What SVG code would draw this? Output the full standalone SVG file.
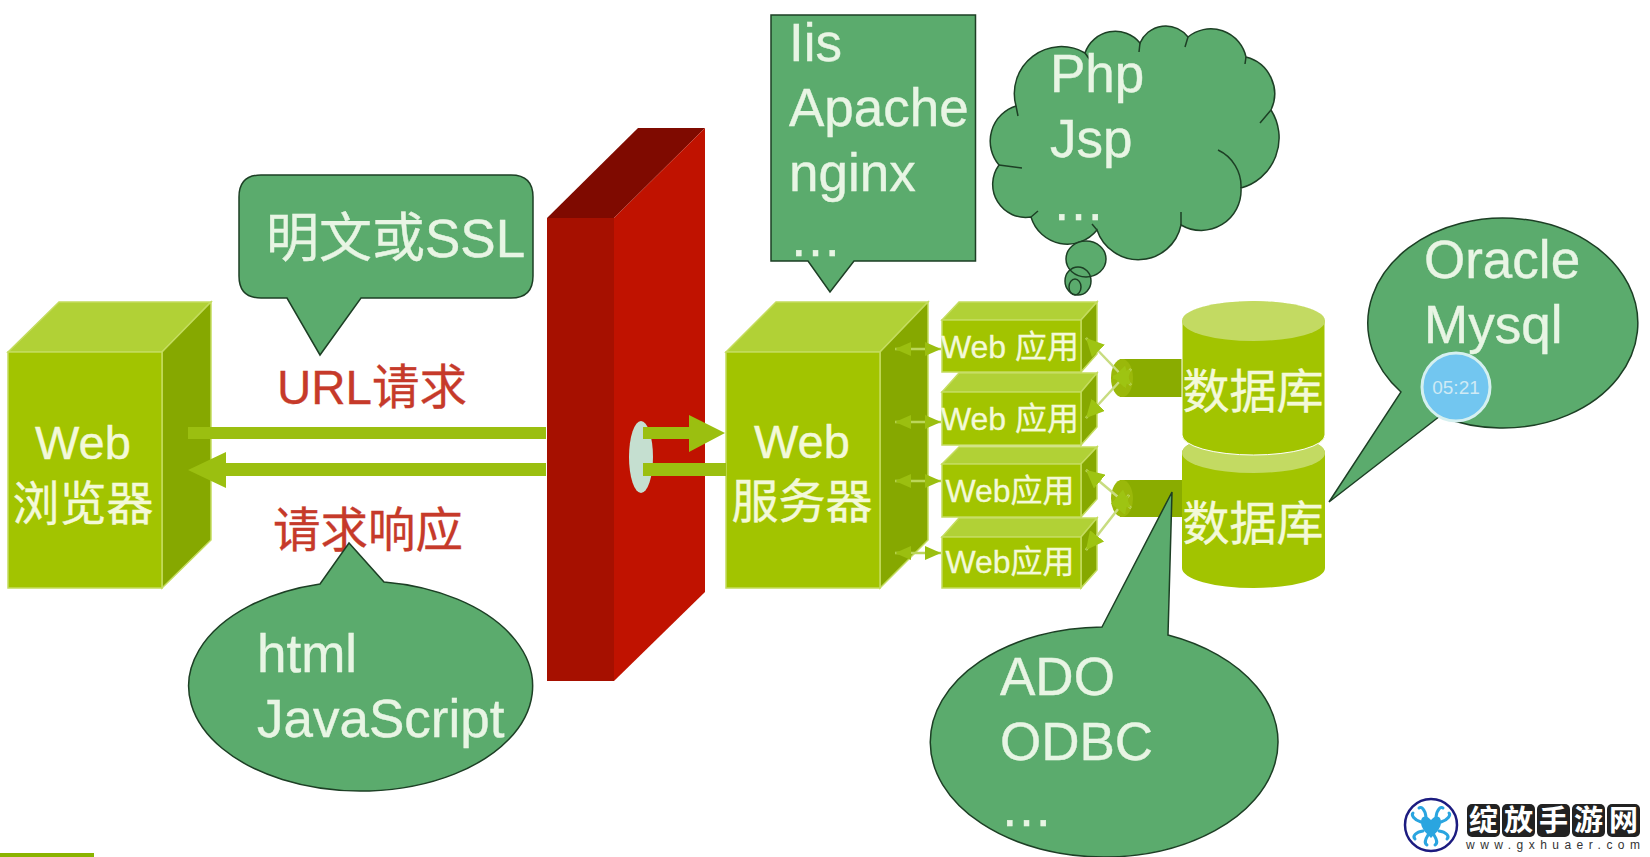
<svg xmlns="http://www.w3.org/2000/svg" width="1650" height="857" viewBox="0 0 1650 857">
<style>
text{font-family:"Liberation Sans","Noto Sans CJK SC",sans-serif}
.ft{fill:#a2c400;stroke:#c4dc5e;stroke-width:1.5}
.tp{fill:#b1d136;stroke:#c4dc5e;stroke-width:1.5}
.sd{fill:#86a800;stroke:#c4dc5e;stroke-width:1.5}
.lb{fill:#f3f9d8;font-size:47px;stroke:#f3f9d8;stroke-width:.4}
.ap{fill:#f3f9d8;font-size:32px;stroke:#f3f9d8;stroke-width:.3}
.co{fill:#5bab6d;stroke:#1d3f25;stroke-width:1.5}
.ol{fill:none;stroke:#1d3f25;stroke-width:1.5}
.ct{fill:#e8f5e4;font-size:53px;stroke:#e8f5e4;stroke-width:.4}
.rd{fill:#c63a2a;font-size:47.5px;stroke:#c63a2a;stroke-width:.3}
.bar{fill:#9bbf10}
.dbl{stroke:#bcd65a;stroke-width:2.5;fill:none;marker-start:url(#h);marker-end:url(#h)}
.dbd{stroke:#c8dc80;stroke-width:2.5;fill:none;marker-start:url(#h2);marker-end:url(#h2)}
.sq{fill:#222}
.sqt{fill:#fff;font-size:29px;font-family:"Noto Sans CJK SC",sans-serif;font-weight:700}
.ten{fill:none;stroke:#2aa5e0;stroke-width:3;stroke-linecap:round}
</style>
<defs>
<marker id="h" viewBox="0 0 16 14" refX="16" refY="7" markerWidth="16" markerHeight="14" markerUnits="userSpaceOnUse" orient="auto-start-reverse"><path d="M0 0L16 7L0 14Z" fill="#9bbf10"/></marker>
<marker id="h2" viewBox="0 0 18 18" refX="18" refY="9" markerWidth="18" markerHeight="18" markerUnits="userSpaceOnUse" orient="auto-start-reverse"><path d="M0 0L18 9L0 18Z" fill="#9ec412"/></marker>
</defs>
<rect width="1650" height="857" fill="#fff"/>
<g id="browser">
<path class="tp" d="M8 352L59 302H211L162 352Z"/>
<path class="sd" d="M162 352L211 302V540L162 588Z"/>
<rect class="ft" x="8" y="352" width="154" height="236"/>
<text class="lb" x="83" y="459" text-anchor="middle">Web</text>
<text class="lb" x="83" y="520" text-anchor="middle">浏览器</text>
</g>
<g id="wall">
<path d="M547 218H614V681H547Z" fill="#a61000"/>
<path d="M547 218L638 128H705L614 218Z" fill="#7f0a00"/>
<path d="M614 218L705 128V592L614 681Z" fill="#c01200"/>
<ellipse cx="641" cy="457" rx="12" ry="36" fill="#c5dfd0"/>
</g>
<g id="server">
<path class="tp" d="M726 352L776 302H928L880 352Z"/>
<path class="sd" d="M880 352L928 302V540L880 588Z"/>
<rect class="ft" x="726" y="352" width="154" height="236"/>
<text class="lb" x="802" y="458" text-anchor="middle">Web</text>
<text class="lb" x="802" y="518" text-anchor="middle">服务器</text>
</g>
<g id="connectors">
<path class="bar" d="M188 427H546V439H188Z"/>
<path class="bar" d="M546 463V476H226V488L188 470L226 452V463Z"/>
<path class="bar" d="M643 427H689V415L725 433L689 452V439H643Z"/>
<path class="bar" d="M643 463H726V476H643Z"/>
</g>
<g id="app1">
<path class="tp" d="M942 320L959 302H1097L1081 320Z"/>
<path class="sd" d="M1081 320L1097 302V354L1081 372Z"/>
<rect class="ft" x="942" y="320" width="139" height="52"/>
<text class="ap" x="1010" y="358" text-anchor="middle">Web 应用</text>
</g>
<g id="app2">
<path class="tp" d="M942 392L959 373H1097L1081 392Z"/>
<path class="sd" d="M1081 392L1097 373V427L1081 445Z"/>
<rect class="ft" x="942" y="392" width="139" height="53"/>
<text class="ap" x="1010" y="430" text-anchor="middle">Web 应用</text>
</g>
<g id="app3">
<path class="tp" d="M942 464L959 447H1097L1081 464Z"/>
<path class="sd" d="M1081 464L1097 447V499L1081 517Z"/>
<rect class="ft" x="942" y="464" width="139" height="53"/>
<text class="ap" x="1010" y="502" text-anchor="middle">Web应用</text>
</g>
<g id="app4">
<path class="tp" d="M942 537L959 518H1097L1081 537Z"/>
<path class="sd" d="M1081 537L1097 518V570L1081 588Z"/>
<rect class="ft" x="942" y="537" width="139" height="51"/>
<text class="ap" x="1010" y="573" text-anchor="middle">Web应用</text>
</g>
<g id="plug1">
<rect x="1120" y="359" width="64" height="38" fill="#8aac00"/>
<ellipse cx="1122" cy="378" rx="11" ry="19" fill="#9ab80a"/>
</g>
<g id="plug2">
<rect x="1120" y="480" width="64" height="37" fill="#8aac00"/>
<ellipse cx="1122" cy="498.500" rx="11" ry="18.500" fill="#9ab80a"/>
</g>
<g id="db2">
<path d="M1182 453A71.500 20 0 0 1 1325 453V568A71.500 20 0 0 1 1182 568Z" fill="#a2c400"/>
<ellipse cx="1253.500" cy="453" rx="71.500" ry="20" fill="#c3da62"/>
<text class="lb" x="1253" y="540" text-anchor="middle">数据库</text>
</g>
<g id="db1">
<path d="M1182 321A71.500 20 0 0 1 1325 321V435A71.500 20 0 0 1 1182 435Z" fill="#a2c400" stroke="#fff" stroke-width="1"/>
<ellipse cx="1253.500" cy="321" rx="71.500" ry="20" fill="#c3da62"/>
<text class="lb" x="1253" y="408" text-anchor="middle">数据库</text>
</g>
<g id="connectors-apps">
<path class="dbl" d="M895 349H941"/>
<path class="dbl" d="M895 422H941"/>
<path class="dbl" d="M895 481H941"/>
<path class="dbl" d="M895 553H941"/>
<path class="dbd" d="M1086 338L1131 385"/>
<path class="dbd" d="M1086 418L1131 369"/>
<path class="dbd" d="M1086 470L1131 508"/>
<path class="dbd" d="M1086 550L1129 495"/>
</g>
<g id="note-ssl">
<path class="co" d="M261 175H511Q533 175 533 197V276Q533 298 511 298H361L320 355L287 298H261Q239 298 239 276V197Q239 175 261 175Z"/>
<text class="ct" x="266" y="257">明文或SSL</text>
</g>
<text id="label-url" class="rd" x="277" y="404">URL请求</text>
<text id="label-resp" class="rd" x="273" y="547">请求响应</text>
<g id="note-html">
<path class="co" d="M320 584L349 543L384 582A172 105 0 1 1 320 584Z"/>
<text class="ct" x="257" y="672">html</text>
<text class="ct" x="257" y="737">JavaScript</text>
</g>
<g id="note-server">
<path class="co" d="M771 15H975.500V261H854L830 292L808 261H771Z"/>
<text class="ct" x="789" y="61">Iis</text>
<text class="ct" x="789" y="126">Apache</text>
<text class="ct" x="789" y="191">nginx</text>
<text class="ct" x="789" y="256">…</text>
</g>
<g id="note-app">
<path class="co" d="M1016 106A47 47 0 0 1 1085 53A32 32 0 0 1 1140 43A28 28 0 0 1 1188 37A36 36 0 0 1 1246 57A38 38 0 0 1 1271 110A52 52 0 0 1 1241 188A40 40 0 0 1 1181 225A43.600 43.600 0 0 1 1097 230A38 38 0 0 1 1031 217A33 33 0 0 1 999 165A36.800 36.800 0 0 1 1016 106Z"/>
<path class="ol" d="M1271 110L1260 123M1218 150A40 40 0 0 1 1241 188M1181 225L1181 212M1097 230L1092 224M1031 217L1038 211M999 165L1022 168M1085 53L1090 60M1140 43L1139 52M1188 37L1185 47M1246 57L1245 64M1016 106L1018 116"/>
<ellipse cx="1086" cy="259" rx="20" ry="18" fill="#5bab6d"/>
<ellipse cx="1078" cy="281" rx="13" ry="14" fill="#5bab6d"/>
<ellipse class="ol" cx="1086" cy="259" rx="20" ry="18"/>
<ellipse class="ol" cx="1078" cy="281" rx="13" ry="14"/>
<ellipse class="ol" cx="1075" cy="287" rx="6" ry="8"/>
<text class="ct" x="1050" y="92">Php</text>
<text class="ct" x="1050" y="157">Jsp</text>
<text class="ct" x="1052" y="220">…</text>
</g>
<g id="note-db">
<path class="co" d="M1329 502L1401 392A135 105 0 1 1 1440 416Z"/>
<text class="ct" x="1424" y="278">Oracle</text>
<text class="ct" x="1424" y="343">Mysql</text>
</g>
<g id="clock">
<circle cx="1456" cy="387" r="34" fill="#72c6f0" stroke="#d5f0f0" stroke-width="3"/>
<text x="1456" y="394" text-anchor="middle" font-size="19" fill="#cfeaf5">05:21</text>
</g>
<g id="note-driver">
<path class="co" d="M1102 627.010L1172 492L1168 635.060A174 115 0 0 1 1104 857A174 115 0 0 1 1102 627.010Z"/>
<text class="ct" x="1000" y="695">ADO</text>
<text class="ct" x="1000" y="760">ODBC</text>
<text class="ct" x="1000" y="826">…</text>
</g>
<rect id="corner-bar" x="0" y="853" width="94" height="4" fill="#8ab400"/>
<g id="logo">
<circle cx="1431" cy="825" r="26" fill="#fff" stroke="#1c1c80" stroke-width="2.500"/>
<path d="M1431 820C1426 814 1421 816 1421 822C1421 828 1425 832 1431 838C1437 832 1441 828 1441 822C1441 816 1436 814 1431 820Z" fill="#2aa5e0"/>
<path class="ten" d="M1426 817C1425 809 1421 806 1419 808M1436 817C1437 809 1441 806 1443 808M1421 822C1414 820 1411 815 1413 813M1441 822C1448 820 1451 815 1449 813M1423 831C1416 832 1412 836 1415 839M1439 831C1446 832 1450 836 1447 839M1428 835C1425 840 1424 843 1427 845M1434 835C1437 840 1438 843 1435 845"/>
<rect class="sq" x="1467" y="804" width="33" height="33" rx="5"/>
<rect class="sq" x="1502" y="804" width="33" height="33" rx="5"/>
<rect class="sq" x="1537" y="804" width="33" height="33" rx="5"/>
<rect class="sq" x="1572" y="804" width="33" height="33" rx="5"/>
<rect class="sq" x="1607" y="804" width="33" height="33" rx="5"/>
<text class="sqt" x="1469" y="831">绽</text>
<text class="sqt" x="1504" y="831">放</text>
<text class="sqt" x="1539" y="831">手</text>
<text class="sqt" x="1574" y="831">游</text>
<text class="sqt" x="1609" y="831">网</text>
<text x="1466" y="849" font-size="12" fill="#333" textLength="174">www.gxhuaer.com</text>
</g>
</svg>
